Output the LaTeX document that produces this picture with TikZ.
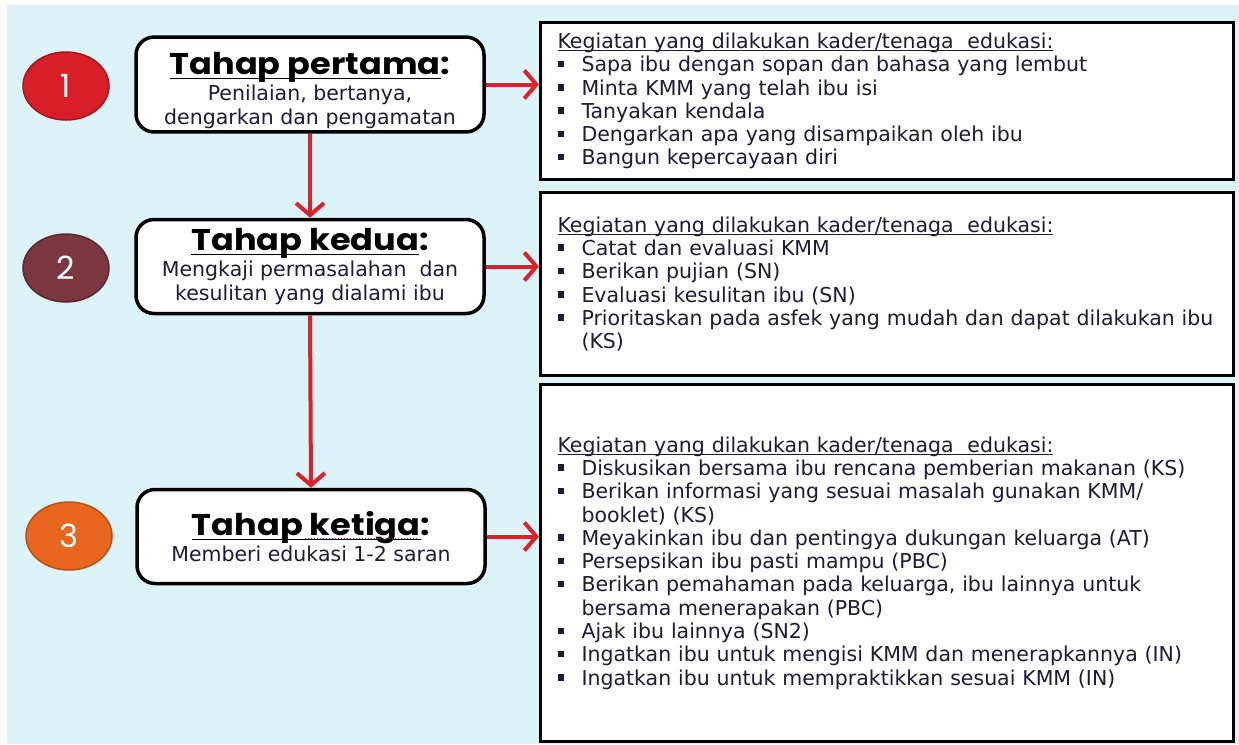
\documentclass[tikz,border=0pt]{standalone}
\usepackage{fontspec}
\usepackage{graphicx}
\setmainfont{DejaVu Sans}
\newfontfamily\headfont{Poppins}
\usetikzlibrary{arrows.meta,shapes.geometric}

\definecolor{bgcyan}{RGB}{220,243,248}
\definecolor{arrowred}{RGB}{218,34,44}
\definecolor{numA}{RGB}{216,30,40}
\definecolor{numAedge}{RGB}{165,22,30}
\definecolor{numB}{RGB}{122,55,65}
\definecolor{numBedge}{RGB}{92,40,48}
\definecolor{numC}{RGB}{232,102,30}
\definecolor{numCedge}{RGB}{186,78,22}
\definecolor{textdark}{RGB}{28,28,52}

\newsavebox{\ulbox}
\newcommand{\ulined}[3]{\sbox{\ulbox}{#3}\rlap{\rule[-#1]{\wd\ulbox}{#2}}\usebox{\ulbox}}
\newcommand{\itm}[1]{\mbox{\makebox[24pt][l]{\rule[4.5pt]{6.5pt}{6.5pt}}#1}}
\newcommand{\cont}[1]{\hspace*{24pt}#1}
\newcommand{\listhead}{\ulined{3pt}{1pt}{Kegiatan yang dilakukan kader/tenaga\ \ edukasi:}}

\tikzset{
  stepnum/.style={ellipse, line width=1.5pt, minimum width=86pt, minimum height=68pt,
    text=white, font=\headfont\fontsize{32}{32}\selectfont},
  stagebox/.style={draw, line width=3.5pt, rounded corners=18pt, fill=white,
    minimum width=348pt, minimum height=94pt, align=center, text=textdark,
    font=\fontsize{20.5}{24}\selectfont},
  infobox/.style={draw, line width=3pt, fill=white, anchor=north west,
    inner xsep=17pt, text width=659pt, align=left, text=textdark,
    font=\fontsize{20.5}{23.3}\selectfont},
  flow/.style={draw=arrowred, line width=4pt, -{Straight Barb[length=12pt,width=28pt]}},
}

\newcommand{\stagehead}[2]{{\headfont\bfseries\fontsize{30}{30}\selectfont\color{black}\scalebox{1.12}[1]{\ulined{5pt}{1.5pt}{#1}#2}}}

\begin{document}
\begin{tikzpicture}[x=1pt,y=-1pt]
\useasboundingbox (0,0) rectangle (1239,744);
\fill[white] (0,0) rectangle (1239,744);
\fill[bgcyan] (7,5) rectangle (1239,744);

% numbered circles
\node[stepnum, fill=numA, draw=numAedge] (num1) at (66,86) {1};
\node[stepnum, fill=numB, draw=numBedge] (num2) at (66,268) {2};
\node[stepnum, fill=numC, draw=numCedge] (num3) at (69,536) {3};

% stages
\node[stagebox] (stage1) at (310,84.5)
  {\rule{0pt}{34pt}\stagehead{Tahap pertama}{:}\\[2pt] Penilaian, bertanya,\\ dengarkan dan\ pengamatan};
\node[stagebox] (stage2) at (310,266.5)
  {\stagehead{Tahap kedua}{:}\\[2pt] Mengkaji permasalahan\ \ dan\\ kesulitan yang dialami\ ibu};
\node[stagebox] (stage3) at (311,536.5)
  {\stagehead{Tahap ketiga}{:}\\[2pt] Memberi edukasi 1-2 saran};

% activity lists
\node[infobox, minimum height=157pt] (info1) at (539,21) {\listhead\\
  \itm{Sapa ibu dengan sopan dan bahasa yang lembut}\\
  \itm{Minta KMM yang telah ibu isi}\\
  \itm{Tanyakan kendala}\\
  \itm{Dengarkan apa yang disampaikan oleh ibu}\\
  \itm{Bangun kepercayaan diri}};
\node[infobox, minimum height=183pt] (info2) at (539,191) {\listhead\\
  \itm{Catat dan evaluasi KMM}\\
  \itm{Berikan pujian (SN)}\\
  \itm{Evaluasi kesulitan ibu (SN)}\\
  \itm{Prioritaskan pada asfek yang mudah dan dapat dilakukan ibu}\\
  \cont{(KS)}};
\node[infobox, minimum height=357pt] (info3) at (539,383) {\listhead\\
  \itm{Diskusikan bersama ibu rencana pemberian\ makanan (KS)}\\
  \itm{Berikan informasi yang sesuai masalah gunakan KMM/}\\
  \cont{booklet) (KS)}\\
  \itm{Meyakinkan ibu dan\ pentingya dukungan keluarga (AT)}\\
  \itm{Persepsikan ibu pasti mampu (PBC)}\\
  \itm{Berikan pemahaman\ pada keluarga, ibu lainnya untuk}\\
  \cont{bersama\ menerapakan\ (PBC)}\\
  \itm{Ajak\ ibu lainnya (SN2)}\\
  \itm{Ingatkan ibu untuk mengisi KMM dan menerapkannya (IN)}\\
  \itm{Ingatkan ibu untuk mempraktikkan sesuai KMM (IN)}};

% connectors
\draw[flow] (stage1.south) -- (stage2.north);
\draw[flow] (stage2.south) -- (stage3.north);
\draw[flow] (stage1.east) -- (stage1.east -| info1.west);
\draw[flow] (stage2.east) -- (stage2.east -| info2.west);
\draw[flow] (stage3.east) -- (stage3.east -| info3.west);

% spell-check mark under "ketiga"
\draw[arrowred, line width=1pt, dotted] (305,538) -- (419,538);
\end{tikzpicture}
\end{document}
